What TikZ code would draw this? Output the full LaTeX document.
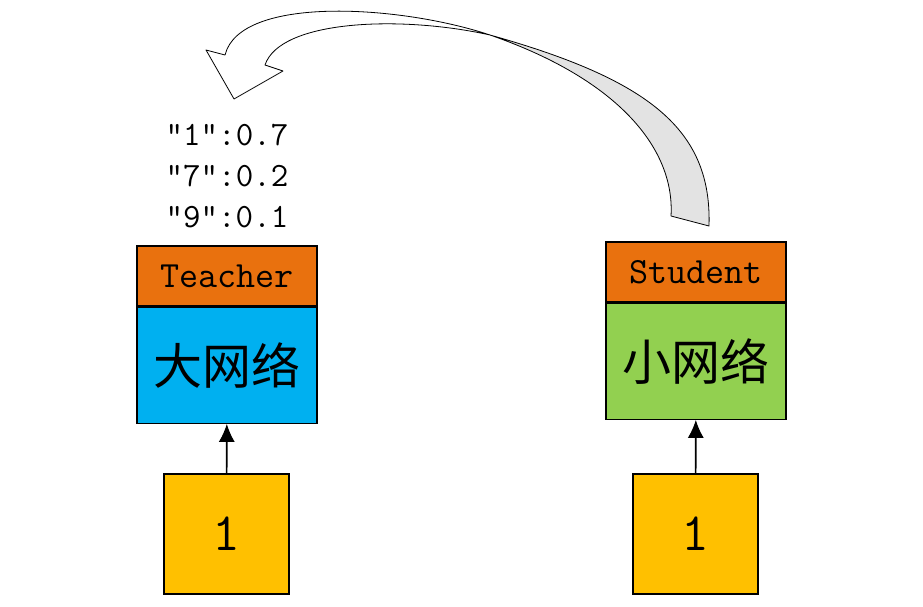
\documentclass[tikz,border=0pt]{standalone}
\usepackage{fontspec}
\newfontfamily\cjk{Noto Sans CJK SC}
\usetikzlibrary{arrows.meta,positioning}

\definecolor{headorange}{RGB}{233,113,14}
\definecolor{bigblue}{RGB}{0,176,240}
\definecolor{smallgreen}{RGB}{146,208,80}
\definecolor{inyellow}{RGB}{255,192,0}

\tikzset{
  headbox/.style={draw, line width=1.2pt, fill=headorange, minimum width=180pt,
    minimum height=60pt, inner sep=0pt, font=\ttfamily\fontsize{37}{40}\selectfont},
  netbox/.style={draw, line width=1.2pt, minimum width=180pt, minimum height=116pt,
    inner sep=0pt, font=\cjk\fontsize{49}{52}\selectfont},
  inbox/.style={draw, line width=1.2pt, fill=inyellow, minimum width=125pt,
    minimum height=120pt, inner sep=0pt, font=\ttfamily\fontsize{54}{58}\selectfont},
}

\begin{document}
\begin{tikzpicture}[x=1pt, y=-1pt]
  \useasboundingbox (0,0) rectangle (923,607);

  % teacher
  \node[headbox] (thead) at (227,276) {Teacher};
  \node[netbox, fill=bigblue, below=0pt of thead] (tnet) {大网络};
  \node[inbox] (tin) at (226.5,534) {1};
  \draw[line width=1.6pt, -{Latex[length=18pt,width=16pt]}] (tin) -- (tnet);

  % student
  \node[headbox] (shead) at (696,272) {Student};
  \node[netbox, fill=smallgreen, below=0pt of shead] (snet) {小网络};
  \node[inbox] (sin) at (695.5,534) {1};
  \draw[line width=1.6pt, -{Latex[length=18pt,width=16pt]}] (sin) -- (snet);

  % soft targets
  \node[align=center, font=\ttfamily\fontsize{34}{41}\selectfont] (soft) at (227,176)
    {"1":0.7\\"7":0.2\\"9":0.1};

  % curved block arrow
  \coordinate (tailr) at (709,226);
  \coordinate (taill) at (671,216);
  \coordinate (twist) at (490,35);
  \coordinate (necko) at (225,55);
  \coordinate (necki) at (265,65);
  \begin{scope}
    \clip (490,0) rectangle (923,300);
    \fill[gray!22] (tailr) .. controls (712,130) and (650,80) .. (twist)
      .. controls (620,80) and (675,150) .. (taill) -- cycle;
  \end{scope}
  \draw[line width=0.8pt, line join=round]
    (tailr) .. controls (712,130) and (650,80) .. (twist)
    .. controls (400,5) and (240,-5) .. (necko)
    -- (206,50) -- (234,99) -- (283,71) -- (necki)
    .. controls (280,20) and (400,15) .. (twist)
    .. controls (620,80) and (675,150) .. (taill) -- cycle;
\end{tikzpicture}
\end{document}
